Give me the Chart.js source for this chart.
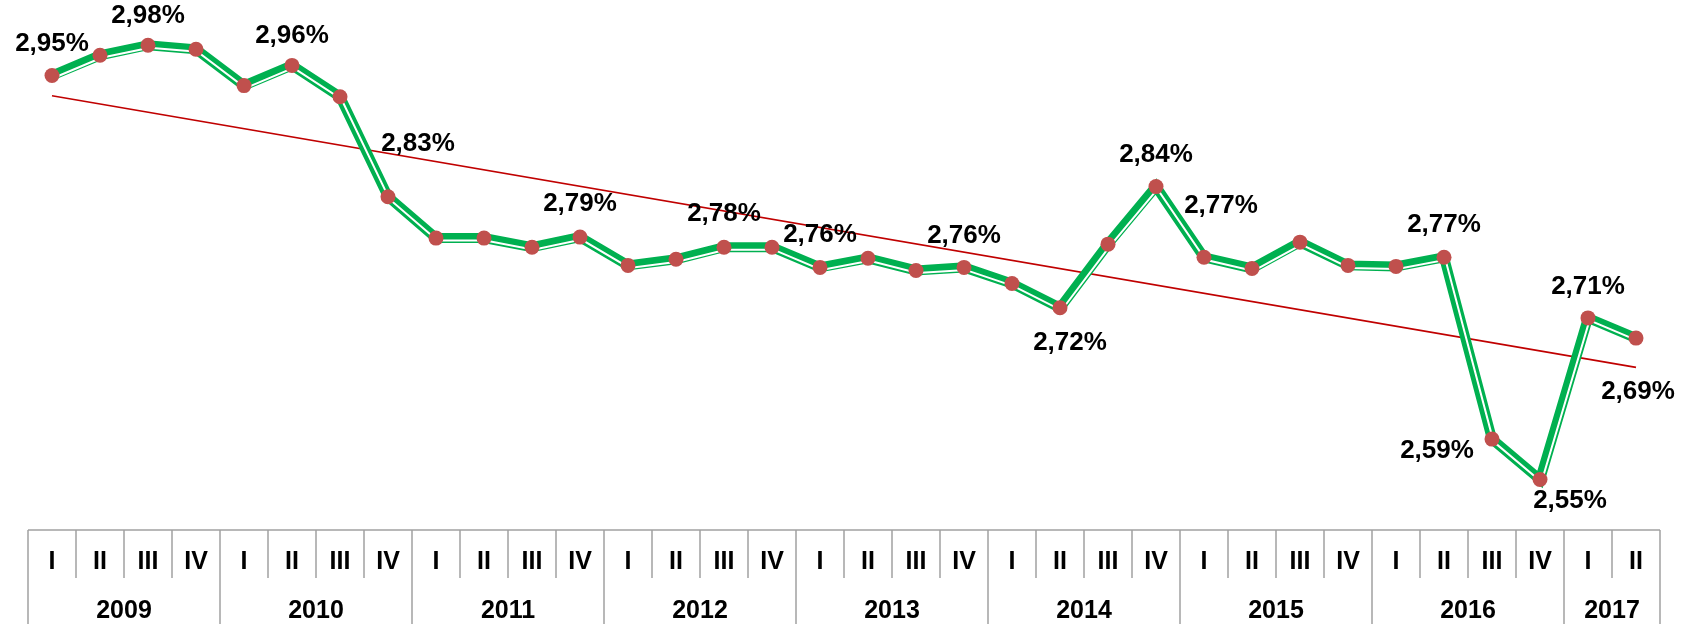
<!DOCTYPE html>
<html>
<head>
<meta charset="utf-8">
<script src="https://cdn.jsdelivr.net/npm/chart.js@4.4.1/dist/chart.umd.min.js"></script>
<style>
  html, body { margin: 0; padding: 0; background: #fff; }
  #wrap { width: 1687px; height: 624px; position: relative; }
</style>
</head>
<body>
<div id="wrap"><canvas id="udio"></canvas></div>
<script>
// Kvartali po godinama
const years = ["2009", "2010", "2011", "2012", "2013", "2014", "2015", "2016", "2017"];
const quartersPerYear = [4, 4, 4, 4, 4, 4, 4, 4, 2];
const quarterNames = ["I", "II", "III", "IV"];

// Udio (%) po kvartalima, 2009 I - 2017 II
const shareValues = [
  2.95, 2.970, 2.98, 2.976,
  2.940, 2.96, 2.929, 2.83,
  2.789, 2.789, 2.780, 2.79,
  2.762, 2.768, 2.78, 2.780,
  2.76, 2.769, 2.757, 2.76,
  2.744, 2.72, 2.783, 2.84,
  2.77, 2.759, 2.785, 2.762,
  2.761, 2.77, 2.59, 2.55,
  2.71, 2.69
];

// linija trenda - pocetna i krajnja vrijednost
const trendEnds = [2.930, 2.661];

// tocke koje imaju oznaku vrijednosti
const labelledPoints = [0, 2, 5, 7, 11, 14, 16, 19, 21, 23, 24, 29, 30, 31, 32, 33];

const quarterLabels = [];
years.forEach((y, i) => {
  for (let q = 0; q < quartersPerYear[i]; q++) quarterLabels.push(quarterNames[q]);
});
const n = shareValues.length;

// pomak oznake od tocke [dx, dy]
const labelOffsets = {
  0: [0, -32], 2: [0, -29], 5: [0, -30], 7: [30, -53], 11: [0, -33],
  14: [0, -33], 16: [0, -33], 19: [0, -32], 21: [10, 35], 23: [0, -32],
  24: [17, -51], 29: [0, -32], 30: [-55, 12], 31: [30, 21], 32: [0, -31],
  33: [2, 54]
};

const LABEL_FONT = "bold 26px 'Liberation Sans', Arial, sans-serif";
const AXIS_FONT = "bold 25px 'Liberation Sans', Arial, sans-serif";

function fmt(v) {
  return v.toFixed(2).replace(".", ",") + "%";
}

// bijela tanka linija malo pomaknuta unutar zelene
const shiftPlugin = {
  id: "shiftLine",
  beforeDatasetDraw(chart, args) {
    const ds = chart.data.datasets[args.index];
    if (ds.shift) {
      chart.ctx.save();
      chart.ctx.translate(ds.shift[0], ds.shift[1]);
    }
  },
  afterDatasetDraw(chart, args) {
    if (chart.data.datasets[args.index].shift) chart.ctx.restore();
  }
};

// oznake vrijednosti
const valueLabels = {
  id: "valueLabels",
  afterDatasetsDraw(chart) {
    const ctx = chart.ctx;
    const meta = chart.getDatasetMeta(0);
    ctx.save();
    ctx.font = LABEL_FONT;
    ctx.fillStyle = "#000";
    ctx.textAlign = "center";
    ctx.textBaseline = "middle";
    labelledPoints.forEach((i) => {
      const pt = meta.data[i];
      const off = labelOffsets[i] || [0, -32];
      ctx.fillText(fmt(shareValues[i]), pt.x + off[0], pt.y + off[1]);
    });
    ctx.restore();
  }
};

// tablica kvartala i godina ispod grafa
const periodTable = {
  id: "periodTable",
  afterDraw(chart) {
    const ctx = chart.ctx;
    const area = chart.chartArea;
    const xs = chart.scales.x;
    const half = (xs.getPixelForValue(1) - xs.getPixelForValue(0)) / 2;
    const top = area.bottom;
    const bottom = chart.height;
    const left = xs.getPixelForValue(0) - half;
    const right = xs.getPixelForValue(n - 1) + half;

    ctx.save();
    ctx.strokeStyle = "#A0A0A0";
    ctx.lineWidth = 1.5;
    ctx.beginPath();
    ctx.moveTo(left, top);
    ctx.lineTo(right, top);
    ctx.stroke();

    // granice godina
    const yearStarts = [];
    let idx = 0;
    quartersPerYear.forEach((c) => { yearStarts.push(idx); idx += c; });
    yearStarts.push(n);

    for (let i = 0; i <= n; i++) {
      const x = i < n ? xs.getPixelForValue(i) - half : xs.getPixelForValue(n - 1) + half;
      const isYear = yearStarts.includes(i);
      ctx.beginPath();
      ctx.moveTo(x, top);
      ctx.lineTo(x, isYear ? bottom : top + 48);
      ctx.stroke();
    }

    ctx.font = AXIS_FONT;
    ctx.fillStyle = "#000";
    ctx.textAlign = "center";
    ctx.textBaseline = "middle";
    quarterLabels.forEach((q, i) => {
      ctx.fillText(q, xs.getPixelForValue(i), top + 32);
    });
    years.forEach((y, i) => {
      const a = xs.getPixelForValue(yearStarts[i]) - half;
      const b = xs.getPixelForValue(yearStarts[i + 1] - 1) + half;
      ctx.fillText(y, (a + b) / 2, top + 81);
    });
    ctx.restore();
  }
};

const trendData = shareValues.map((_, i) => i === 0 ? trendEnds[0] : (i === n - 1 ? trendEnds[1] : null));

const data = {
  labels: quarterLabels,
  datasets: [
    {
      label: "tocke",
      data: shareValues,
      showLine: false,
      pointRadius: 7.5,
      pointHoverRadius: 7.5,
      pointBackgroundColor: "#C0504D",
      pointBorderWidth: 0
    },
    {
      label: "bijela",
      data: shareValues,
      borderColor: "#FFFFFF",
      borderWidth: 2,
      pointRadius: 0,
      tension: 0,
      shift: [1.5, 2.5]
    },
    {
      label: "udio",
      data: shareValues,
      borderColor: "#00B050",
      borderWidth: 10,
      pointRadius: 0,
      tension: 0
    },
    {
      label: "trend",
      data: trendData,
      spanGaps: true,
      borderColor: "#C00000",
      borderWidth: 1.6,
      pointRadius: 0,
      tension: 0
    }
  ]
};

const config = {
  type: "line",
  data: data,
  options: {
    responsive: true,
    maintainAspectRatio: false,
    animation: false,
    layout: {
      padding: { left: 28, right: 27, top: 25, bottom: 94 }
    },
    scales: {
      x: { display: false, offset: true },
      y: { display: false, min: 2.5, max: 3.0 }
    },
    plugins: {
      legend: { display: false },
      tooltip: { enabled: false }
    }
  },
  plugins: [shiftPlugin, valueLabels, periodTable]
};

const udioChart = new Chart(document.getElementById("udio").getContext("2d"), config);
</script>
</body>
</html>
